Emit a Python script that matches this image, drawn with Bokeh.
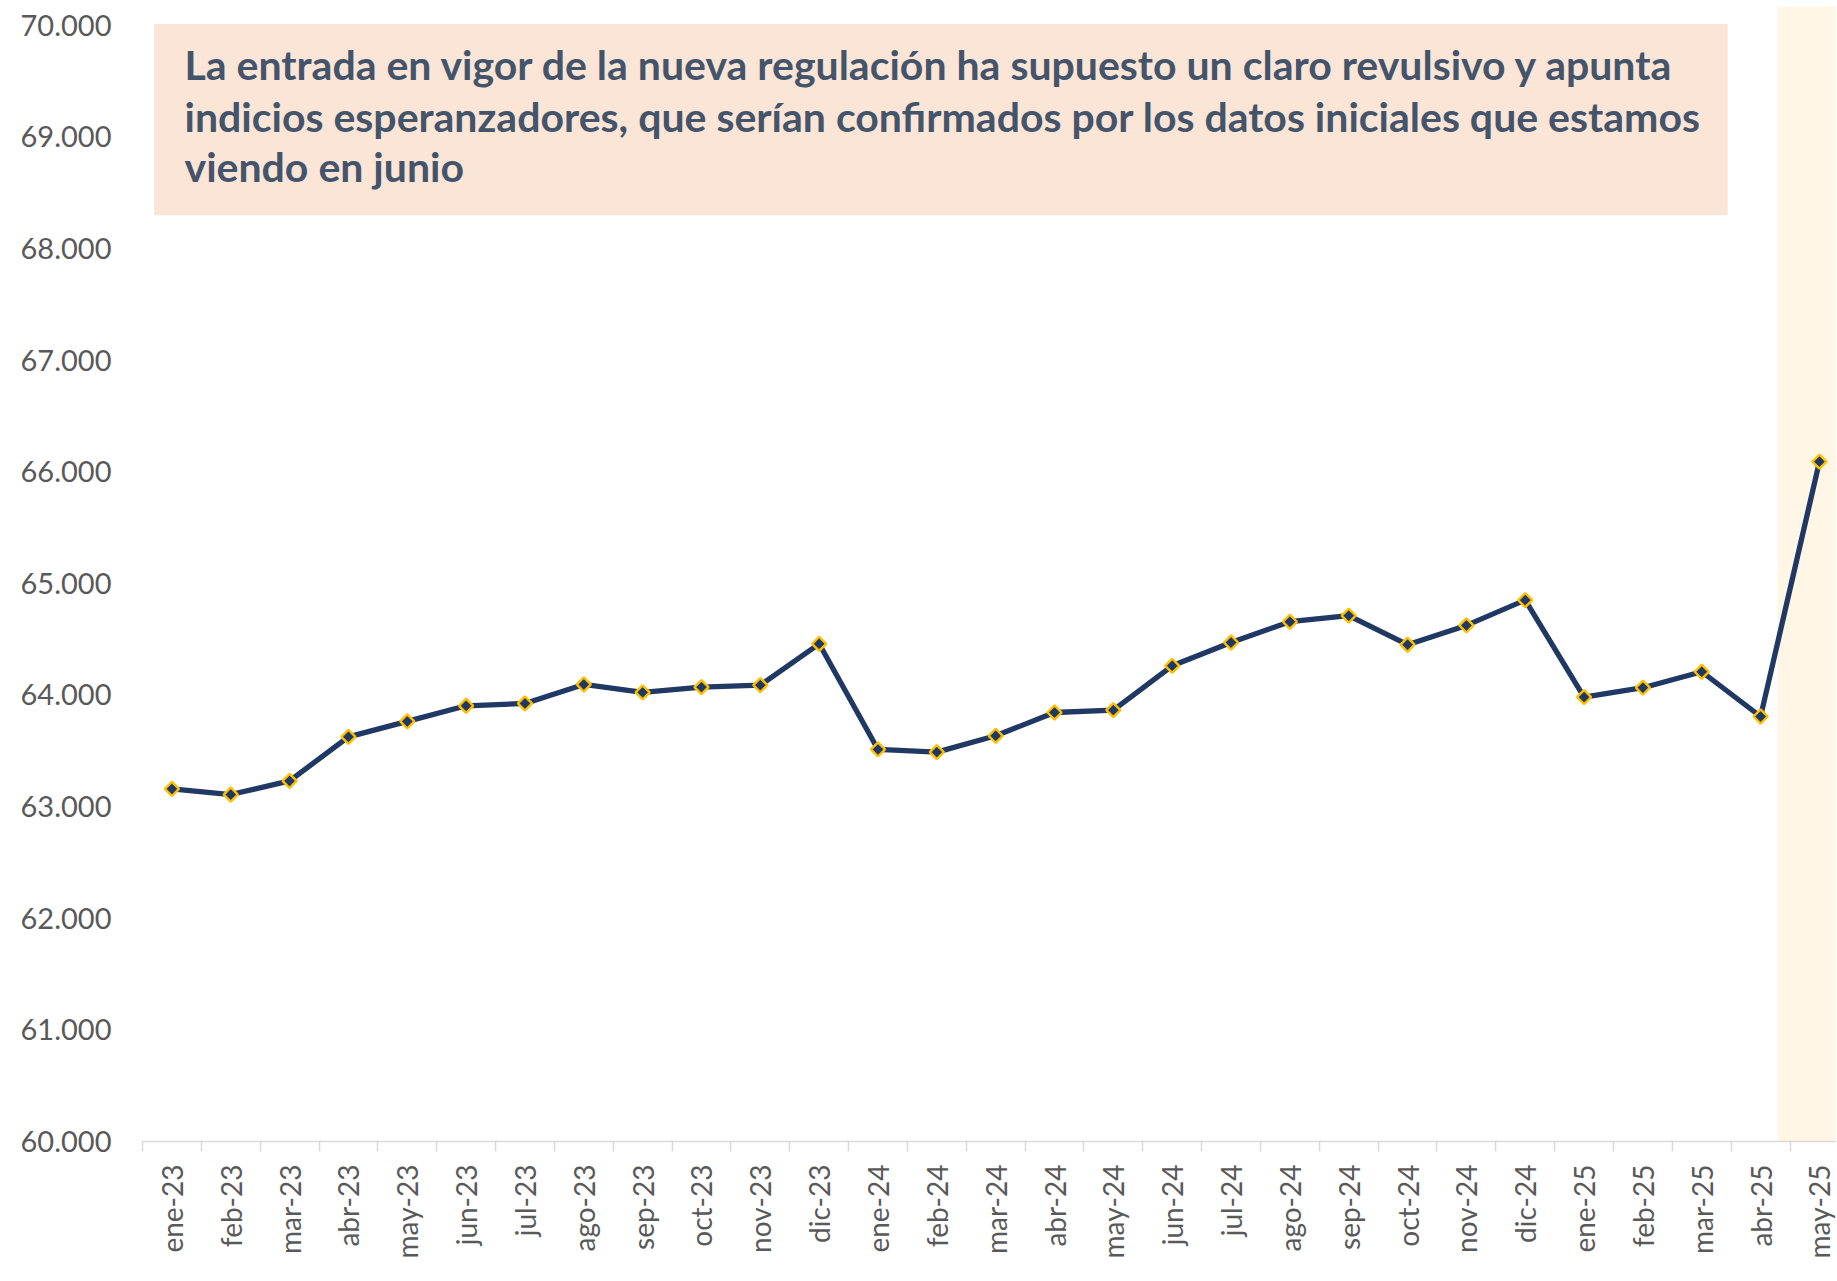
import math
from bokeh.plotting import figure
from bokeh.models import Range1d, FixedTicker, BoxAnnotation, Label
from bokeh.embed import file_html
from bokeh.resources import INLINE

# ---------------- data ----------------
months = ["ene-23", "feb-23", "mar-23", "abr-23", "may-23", "jun-23", "jul-23", "ago-23",
          "sep-23", "oct-23", "nov-23", "dic-23",
          "ene-24", "feb-24", "mar-24", "abr-24", "may-24", "jun-24", "jul-24", "ago-24",
          "sep-24", "oct-24", "nov-24", "dic-24",
          "ene-25", "feb-25", "mar-25", "abr-25", "may-25"]
values = [63158, 63108, 63230, 63625, 63763, 63903, 63924, 64094, 64023, 64070, 64088, 64458,
          63512, 63488, 63634, 63843, 63864, 64261, 64470, 64656, 64710, 64450, 64623, 64850,
          63981, 64065, 64208, 63807, 66090]
y_ticks = [60000, 61000, 62000, 63000, 64000, 65000, 66000, 67000, 68000, 69000, 70000]
y_tick_labels = ["60.000", "61.000", "62.000", "63.000", "64.000", "65.000", "66.000",
                 "67.000", "68.000", "69.000", "70.000"]
note_lines = [
    "La entrada en vigor de la nueva regulación ha supuesto un claro revulsivo y apunta",
    "indicios esperanzadores, que serían confirmados por los datos iniciales que estamos",
    "viendo en junio",
]

# ---------------- styles ----------------
W, H = 1836, 1280
LINE_COLOR = "#203864"
MARKER_EDGE = "#FFC000"
AXIS_GREY = "#D9D9D9"
LABEL_GREY = "#595959"
NOTE_BG = "#FBE5D6"
NOTE_TXT = "#44546A"
BAND_BG = "#FFF6E5"
FONT = "Lato"

FRAME_LEFT, FRAME_TOP, FRAME_BOTTOM = 142, 6, 1141
xs = list(range(len(months)))
n = len(months)
x_end = n - 1 + 0.29
y_end = 70167

p = figure(width=W, height=H, output_backend="svg", toolbar_location=None,
           x_range=Range1d(-0.5, x_end), y_range=Range1d(60000, y_end),
           min_border_left=FRAME_LEFT, min_border_right=0, min_border_top=FRAME_TOP,
           min_border_bottom=H - FRAME_BOTTOM,
           background_fill_color="white", border_fill_color="white")
p.outline_line_color = None
p.xgrid.visible = False
p.ygrid.visible = False

# highlight band for last month
band = BoxAnnotation(left=n - 1 - 0.71, right=x_end, top=y_end, bottom=60000,
                     fill_color=BAND_BG, fill_alpha=1.0, line_color=None, level="underlay")
p.add_layout(band)

# note box
note = BoxAnnotation(left=-0.305, right=26.44, top=70010, bottom=68298,
                     fill_color=NOTE_BG, fill_alpha=1.0, line_color=None, level="underlay")
p.add_layout(note)

note_y = [69646, 69186, 68732]
for txt, yy in zip(note_lines, note_y):
    p.add_layout(Label(x=0.214, y=yy, text=txt, text_font=FONT, text_font_style="bold",
                       text_font_size="41px", text_color=NOTE_TXT,
                       text_baseline="alphabetic", text_align="left"))

# line + markers
p.line(xs, values, line_color=LINE_COLOR, line_width=5.3, line_join="round")
p.scatter(xs, values, marker="square", angle=math.pi / 4, size=10, fill_color=LINE_COLOR,
          line_color=MARKER_EDGE, line_width=2.4)

# x axis
xa = p.xaxis[0]
xa.ticker = FixedTicker(ticks=xs, minor_ticks=[i - 0.5 for i in range(n + 1)])
xa.major_label_overrides = {i: m for i, m in enumerate(months)}
xa.major_label_orientation = math.pi / 2
xa.major_label_text_font = FONT
xa.major_label_text_font_size = "28px"
xa.major_label_text_color = LABEL_GREY
xa.major_label_standoff = 13
xa.major_tick_out = 0
xa.major_tick_in = 0
xa.minor_tick_out = 10
xa.minor_tick_in = 0
xa.minor_tick_line_color = AXIS_GREY
xa.minor_tick_line_width = 1.5
xa.axis_line_color = AXIS_GREY
xa.axis_line_width = 1.5

# y axis
ya = p.yaxis[0]
ya.ticker = FixedTicker(ticks=y_ticks, minor_ticks=[])
ya.major_label_overrides = {t: s for t, s in zip(y_ticks, y_tick_labels)}
ya.major_label_text_font = FONT
ya.major_label_text_font_size = "29px"
ya.major_label_text_color = LABEL_GREY
ya.major_label_standoff = 25
ya.axis_line_color = None
ya.major_tick_line_color = None
ya.minor_tick_line_color = None

open("out.html", "w").write(file_html(p, INLINE))
